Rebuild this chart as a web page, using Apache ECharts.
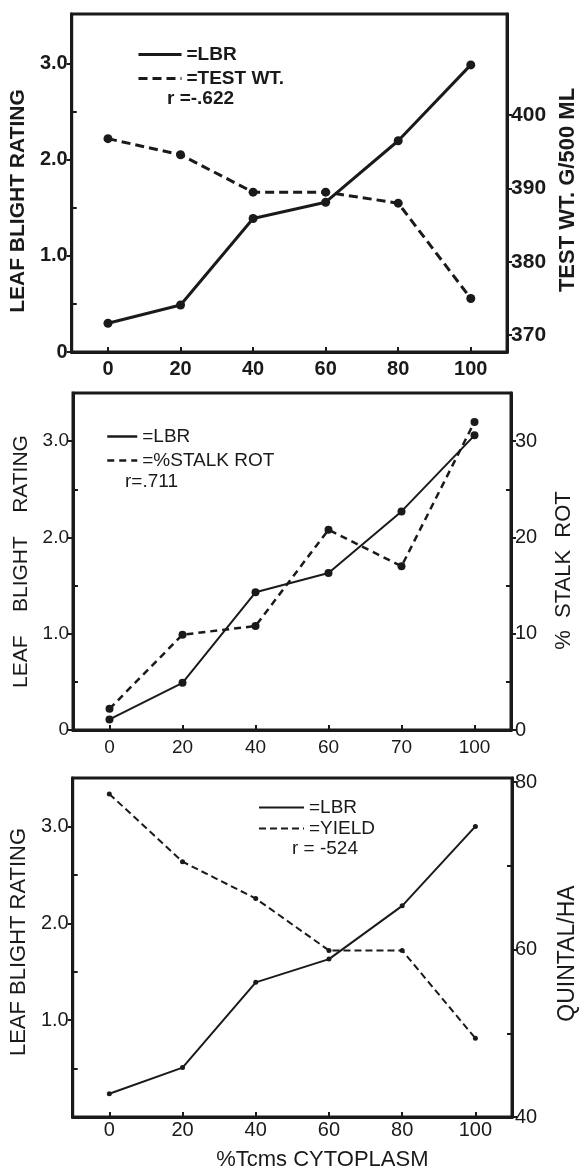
<!DOCTYPE html>
<html>
<head>
<meta charset="utf-8">
<script src="https://cdn.jsdelivr.net/npm/echarts@6/dist/echarts.min.js"></script>
<style>
html,body{margin:0;padding:0;background:#fff;}
#chart{width:587px;height:1172px;}
</style>
</head>
<body>
<div id="chart"></div>
<script>
// ---------- data ----------
const cats1 = ['0', '20', '40', '60', '80', '100'];
const cats2 = ['0', '20', '40', '60', '70', '100'];
const cats3 = ['0', '20', '40', '60', '80', '100'];

const lbr1 = [0.30, 0.49, 1.39, 1.56, 2.20, 2.99];
const testWt = [396.8, 394.6, 389.5, 389.5, 388.0, 375.0];

const lbr2 = [0.11, 0.49, 1.43, 1.63, 2.27, 3.06];
const stalkRot = [2.2, 9.9, 10.8, 20.8, 17.0, 32.0];

const lbr3 = [0.24, 0.51, 1.39, 1.63, 2.18, 3.00];
const yieldQ = [78.6, 70.5, 66.1, 59.9, 59.9, 49.4];

const leftTicks1 = [0, 1, 2, 3];
const leftMinor = [0.5, 1.5, 2.5];
const rightTicks1 = [370, 380, 390, 400];
const leftTicks2 = [0, 1, 2, 3];
const rightTicks2 = [0, 10, 20, 30];
const rightMinor2 = [5, 15, 25];
const leftTicks3 = [1, 2, 3];
const rightTicks3 = [40, 60, 80];
const rightMinor3 = [50, 70];

// ---------- style ----------
const ink = '#1a1a1a';
const FONT = 'Liberation Sans';

const grids = [
  {left: 70, right: 74, top: 14, height: 338},
  {left: 73, right: 76, top: 393, height: 337},
  {left: 70, right: 75, top: 778, height: 342}
];

const xAxes = [];
const yAxes = [];
const series = [];

function lblFmt(v) { return v === 0 ? '0' : (Number.isInteger(v) && v < 10 ? v.toFixed(1) : String(v)); }

function addX(gi, cats, o) {
  xAxes.push({
    type: 'category', gridIndex: gi, data: cats, boundaryGap: true, position: 'bottom',
    axisLine: {show: true, lineStyle: {color: ink, width: 3}},
    axisTick: {show: true, alignWithLabel: true, inside: true, length: 5, lineStyle: {color: ink, width: 2}},
    axisLabel: {margin: o.margin, fontSize: o.fontSize, fontWeight: o.weight, color: ink, fontFamily: FONT},
    splitLine: {show: false},
    name: o.name || '', nameLocation: 'middle', nameGap: o.nameGap || 30,
    nameTextStyle: o.nameStyle || {}
  });
  return xAxes.length - 1;
}

function addY(gi, pos, min, max, major, minor, o) {
  yAxes.push({
    type: 'value', gridIndex: gi, position: pos, min: min, max: max,
    axisLine: {show: true, lineStyle: {color: ink, width: 3}},
    axisTick: {show: true, inside: false, length: 5, customValues: major, lineStyle: {color: ink, width: 2}},
    axisLabel: {customValues: major, formatter: o.fmt || (v => String(v)), margin: o.margin,
      fontSize: o.fontSize, fontWeight: o.weight, color: ink, fontFamily: FONT},
    splitLine: {show: false},
    name: o.name, nameLocation: 'middle', nameGap: o.nameGap,
    nameTextStyle: Object.assign({color: ink, fontFamily: FONT}, o.nameStyle)
  });
  const idx = yAxes.length - 1;
  if (minor && minor.length) {
    yAxes.push({
      type: 'value', gridIndex: gi, position: pos, min: min, max: max,
      axisLine: {show: false},
      axisTick: {show: true, inside: true, length: 5, customValues: minor, lineStyle: {color: ink, width: 2}},
      axisLabel: {show: false}, splitLine: {show: false}
    });
  }
  return idx;
}

function addLine(name, xi, yi, data, o) {
  series.push({
    name: name, type: 'line', xAxisIndex: xi, yAxisIndex: yi, data: data,
    symbol: 'circle', symbolSize: o.symbolSize, silent: true,
    itemStyle: {color: ink},
    lineStyle: {color: ink, width: o.width, type: o.dashed ? [o.dash, o.gap] : 'solid'},
    z: 5
  });
}

// ---------- panel 1 ----------
let x = addX(0, cats1, {margin: 7, fontSize: 20, weight: 'bold'});
let yl = addY(0, 'left', 0, 3.52, leftTicks1, leftMinor, {
  fmt: lblFmt, margin: 4, fontSize: 20, weight: 'bold',
  name: 'LEAF BLIGHT RATING', nameGap: 30,
  nameStyle: {fontSize: 21, fontWeight: 'bold', padding: [0, 36, 0, 0]}
});
let yr = addY(0, 'right', 367.7, 413.8, rightTicks1, [], {
  margin: 4, fontSize: 21, weight: 'bold',
  name: 'TEST WT. G/500 ML', nameGap: 48,
  nameStyle: {fontSize: 22, fontWeight: 'bold', padding: [0, 14, 0, 0]}
});
addLine('LBR', x, yl, lbr1, {symbolSize: 9, width: 3});
addLine('TEST WT.', x, yr, testWt, {symbolSize: 9, width: 3, dashed: true, dash: 9, gap: 5});

// ---------- panel 2 ----------
x = addX(1, cats2, {margin: 8, fontSize: 19, weight: 'normal'});
yl = addY(1, 'left', 0, 3.5, leftTicks2, leftMinor, {
  fmt: lblFmt, margin: 4, fontSize: 19, weight: 'normal',
  name: 'LEAF    BLIGHT    RATING', nameGap: 34,
  nameStyle: {fontSize: 21, fontWeight: 'normal'}
});
yr = addY(1, 'right', 0, 35, rightTicks2, rightMinor2, {
  margin: 4, fontSize: 20, weight: 'normal',
  name: '%  STALK  ROT', nameGap: 42,
  nameStyle: {fontSize: 22, fontWeight: 'normal', padding: [0, 18, 0, 0]}
});
addLine('LBR', x, yl, lbr2, {symbolSize: 8, width: 2});
addLine('%STALK ROT', x, yr, stalkRot, {symbolSize: 8, width: 2.5, dashed: true, dash: 7, gap: 5});

// ---------- panel 3 ----------
x = addX(2, cats3, {margin: 3, fontSize: 20, weight: 'normal',
  name: '%Tcms CYTOPLASM', nameGap: 32,
  nameStyle: {fontSize: 22, color: ink, fontFamily: FONT, padding: [0, 0, 0, 60]}});
yl = addY(2, 'left', 0, 3.5, leftTicks3, leftMinor, {
  fmt: lblFmt, margin: 4, fontSize: 20, weight: 'normal',
  name: 'LEAF BLIGHT RATING', nameGap: 38,
  nameStyle: {fontSize: 22, fontWeight: 'normal', padding: [0, 0, 0, 11]}
});
yr = addY(2, 'right', 40, 80.5, rightTicks3, rightMinor3, {
  margin: 3, fontSize: 20, weight: 'normal',
  name: 'QUINTAL/HA', nameGap: 44,
  nameStyle: {fontSize: 23, fontWeight: 'normal', padding: [0, 12, 0, 0]}
});
addLine('LBR', x, yl, lbr3, {symbolSize: 5, width: 2});
addLine('YIELD', x, yr, yieldQ, {symbolSize: 5, width: 2, dashed: true, dash: 7, gap: 4});

// ---------- legends & notes ----------
function legend(names, left, top, w, gap, fs, weight, lw) {
  return {
    data: names, orient: 'vertical', left: left, top: top, padding: 0,
    itemWidth: w, itemHeight: 12, itemGap: gap, selectedMode: false,
    itemStyle: {opacity: 0}, lineStyle: {width: lw},
    formatter: '={name}',
    textStyle: {fontSize: fs, fontWeight: weight, color: ink, fontFamily: FONT, lineHeight: fs + 2}
  };
}

const option = {
  backgroundColor: '#ffffff',
  animation: false,
  grid: grids.map(g => Object.assign({show: true, borderColor: ink, borderWidth: 3, containLabel: false}, g)),
  xAxis: xAxes,
  yAxis: yAxes,
  series: series,
  legend: [
    legend(['LBR', 'TEST WT.'], 137, 44, 43, 3, 19, 'bold', 3),
    legend(['LBR', '%STALK ROT'], 106, 426, 30, 3, 19, 'normal', 2.5),
    legend(['LBR', 'YIELD'], 258, 797, 45, 0, 19, 'normal', 2)
  ],
  title: [
    {text: 'r =-.622', left: 167, top: 89, padding: 0,
      textStyle: {fontSize: 19, fontWeight: 'bold', color: ink, fontFamily: FONT}},
    {text: 'r=.711', left: 125, top: 472, padding: 0,
      textStyle: {fontSize: 19, fontWeight: 'normal', color: ink, fontFamily: FONT}},
    {text: 'r = -524', left: 292, top: 839, padding: 0,
      textStyle: {fontSize: 19, fontWeight: 'normal', color: ink, fontFamily: FONT}}
  ]
};

const chart = echarts.init(document.getElementById('chart'), null, {renderer: 'canvas'});
chart.setOption(option);
</script>
</body>
</html>
